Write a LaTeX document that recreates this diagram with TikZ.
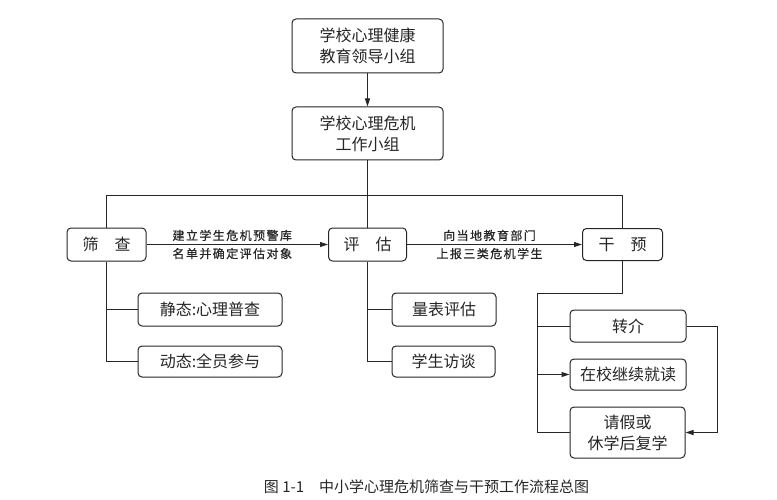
\documentclass[tikz,border=0pt]{standalone}
\usepackage{fontspec}
\setmainfont{Noto Sans CJK SC}
\newfontfamily\lblfont[LetterSpace=12,FakeBold=0.6]{Noto Sans CJK SC}
\usetikzlibrary{arrows.meta}
\tikzset{
  bx/.style={draw=black!85, rounded corners=4pt, line width=1pt, inner sep=0pt, align=center,
     font=\fontsize{16}{21}\selectfont, text=black!85},
  ln/.style={draw=black!85, line width=1pt},
  arr/.style={ln, -{Triangle[length=8pt,width=5pt]}},
  lbl/.style={font=\lblfont\fontsize{12}{14}\selectfont, text=black!85, inner sep=2pt, xshift=-5pt}
}
\begin{document}
\begin{tikzpicture}[x=1pt,y=-1pt]
\fill[white] (0,0) rectangle (777,500);
\useasboundingbox (0,0) rectangle (777,500);

\node[bx, minimum width=151pt, minimum height=54pt] (lead) at (367.5,46) {学校心理健康\\教育领导小组};
\node[bx, minimum width=151pt, minimum height=53pt] (crisis) at (367.5,133.5) {学校心理危机\\工作小组};

\node[bx, minimum width=79pt, minimum height=33pt] (sc) at (106.5,244.5) {筛\quad 查};
\node[bx, minimum width=78pt, minimum height=33pt] (pg) at (367.5,244.5) {评\quad 估};
\node[bx, minimum width=80pt, minimum height=32pt] (gy) at (622.5,244.5) {干\quad 预};

\node[bx, minimum width=144pt, minimum height=33pt] (s1) at (210,309.5) {静态:心理普查};
\node[bx, minimum width=144pt, minimum height=31pt] (s2) at (210,361.5) {动态:全员参与};
\node[bx, minimum width=104pt, minimum height=33pt] (p1) at (444,309.5) {量表评估};
\node[bx, minimum width=103pt, minimum height=31pt] (p2) at (443.5,361.5) {学生访谈};

\node[bx, minimum width=116pt, minimum height=32pt] (g1) at (628,326) {转介};
\node[bx, minimum width=116pt, minimum height=31pt] (g2) at (628,374.5) {在校继续就读};
\node[bx, minimum width=115pt, minimum height=51pt] (g3) at (627.5,432.5) {请假或\\休学后复学};

\coordinate (bus) at (0,196);
\coordinate (gcorner) at (537.5,293);
\coordinate (rx) at (717,0);

\draw[arr] (lead) -- (crisis);
\draw[ln] (crisis.south) -- (pg.north);
\draw[ln] (sc.north) |- (bus -| gy.north) -- (gy.north);

\draw[arr] (sc) -- node[lbl, above=1pt] {建立学生危机预警库} node[lbl, below=1pt] {名单并确定评估对象} (pg);
\draw[arr] (pg) -- node[lbl, above=1pt] {向当地教育部门} node[lbl, below=1pt] {上报三类危机学生} (gy);

\draw[ln] (sc.south) |- (s2.west);
\draw[ln] (sc.south |- s1.west) -- (s1.west);
\draw[ln] (pg.south) |- (p2.west);
\draw[ln] (pg.south |- p1.west) -- (p1.west);

\draw[ln] (gy.south) -- (gy.south |- gcorner) -- (gcorner) |- (g3.west);
\draw[ln] (gcorner |- g1.west) -- (g1.west);
\draw[arr] (gcorner |- g2.west) -- (g2.west);
\draw[arr] (g1.east) -- (g1.east -| rx) |- (g3.east);

\node[font=\fontsize{15}{18}\selectfont, text=black!85] (cap) at (426.5,487) {图 1-1\quad 中小学心理危机筛查与干预工作流程总图};
\end{tikzpicture}
\end{document}
